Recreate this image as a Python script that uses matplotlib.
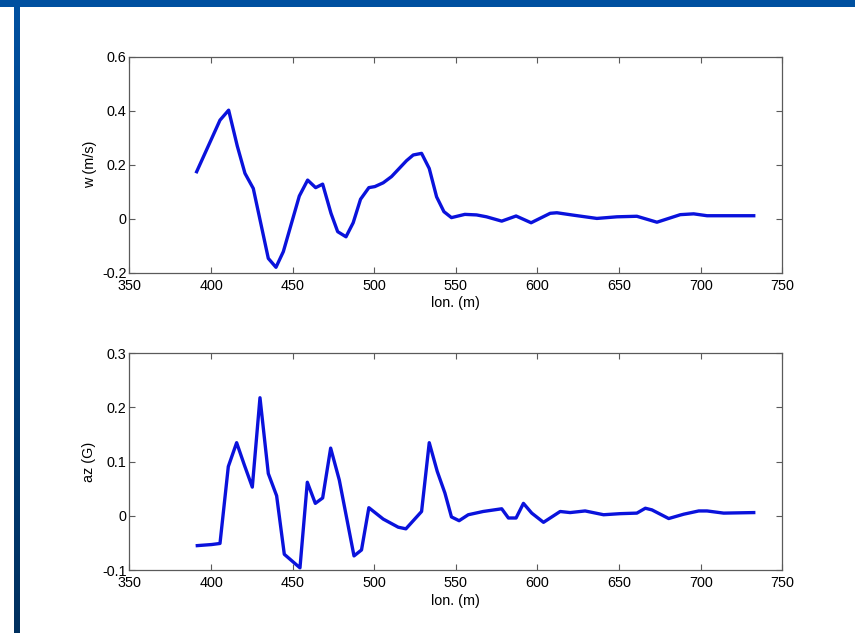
import matplotlib
matplotlib.use("Agg")
import matplotlib.pyplot as plt
import numpy as np
from matplotlib.patches import Rectangle
from matplotlib.colors import LinearSegmentedColormap

plt.rcParams['font.family'] = ['Liberation Sans', 'DejaVu Sans']

# --- data: vertical velocity w (m/s) vs longitudinal distance ---
w_lon = [391.2, 405.5, 410.8, 416.1, 420.8, 425.9, 435.1, 439.8, 444.3, 454.1,
         459.2, 464.1, 468.4, 473.5, 477.6, 482.7, 487.1, 491.6, 496.7, 500.4,
         505.5, 510.6, 519.8, 523.9, 529.0, 533.7, 538.2, 542.7, 547.3, 555.5,
         562.7, 568.8, 578.1, 586.9, 596.1, 607.8, 611.9, 622.1, 636.4, 648.7,
         660.9, 673.2, 687.5, 695.7, 703.9, 720.2, 732.5]
w_val = [0.174, 0.365, 0.402, 0.269, 0.168, 0.112, -0.147, -0.180, -0.122, 0.084,
         0.143, 0.115, 0.128, 0.020, -0.048, -0.067, -0.015, 0.072, 0.115, 0.119,
         0.133, 0.156, 0.215, 0.236, 0.242, 0.186, 0.081, 0.026, 0.004, 0.016,
         0.014, 0.007, -0.009, 0.010, -0.015, 0.020, 0.022, 0.013, 0.001, 0.007,
         0.009, -0.013, 0.015, 0.018, 0.011, 0.011, 0.011]

# --- data: vertical acceleration az (G) vs longitudinal distance ---
az_lon = [391.6, 400.4, 405.5, 410.6, 415.7, 420.4, 425.3, 430.0, 435.1, 440.2,
          444.9, 454.5, 459.0, 463.9, 468.4, 473.3, 478.6, 487.6, 492.2, 496.7,
          505.5, 514.7, 519.4, 529.0, 533.7, 538.6, 543.3, 547.3, 552.0, 557.6,
          566.7, 578.1, 582.2, 586.9, 591.4, 596.5, 603.7, 613.9, 620.0, 629.2,
          640.5, 650.7, 660.9, 666.1, 670.1, 680.4, 689.6, 698.8, 703.9, 714.1,
          732.5]
az_val = [-0.055, -0.053, -0.051, 0.091, 0.135, 0.094, 0.053, 0.218, 0.078, 0.037,
          -0.071, -0.096, 0.062, 0.023, 0.033, 0.125, 0.066, -0.074, -0.063, 0.015,
          -0.006, -0.021, -0.024, 0.008, 0.135, 0.082, 0.042, -0.002, -0.009, 0.002,
          0.008, 0.013, -0.004, -0.004, 0.023, 0.005, -0.012, 0.008, 0.006, 0.009,
          0.002, 0.004, 0.005, 0.014, 0.011, -0.005, 0.003, 0.009, 0.009, 0.005,
          0.006]

x_ticks = [350, 400, 450, 500, 550, 600, 650, 700, 750]
w_ticks = [-0.2, 0, 0.2, 0.4, 0.6]
w_tick_labels = ['-0.2', '0', '0.2', '0.4', '0.6']
az_ticks = [-0.1, 0, 0.1, 0.2, 0.3]
az_tick_labels = ['-0.1', '0', '0.1', '0.2', '0.3']

W, H = 855, 633
fig = plt.figure(figsize=(W / 100, H / 100), dpi=100)
fig.patch.set_facecolor('white')

# slide decoration: top bar and left gradient stripe
fig.patches.append(Rectangle((0, 1 - 7 / H), 1, 7 / H, transform=fig.transFigure,
                             facecolor='#0050a0', edgecolor='none', zorder=0))
grad = np.linspace(0, 1, 256).reshape(-1, 1)
ax_stripe = fig.add_axes([14 / W, 0, 6 / W, 1 - 7 / H])
cmap = LinearSegmentedColormap.from_list('s', ['#00305e', '#0050a0'])
ax_stripe.imshow(grad, aspect='auto', cmap=cmap, origin='lower')
ax_stripe.axis('off')

line_color = '#0a12dc'
frame_color = '#5a5a5a'


def style(ax, yt, ytl, ylim, ylabel):
    ax.set_xlim(350, 750)
    ax.set_ylim(*ylim)
    ax.set_xticks(x_ticks)
    ax.set_xticklabels([str(v) for v in x_ticks])
    ax.set_yticks(yt)
    ax.set_yticklabels(ytl)
    ax.tick_params(direction='in', length=4.5, width=0.8, color=frame_color,
                   top=True, right=True, labelsize=10.4, labelcolor='black')
    ax.tick_params(axis='x', pad=4.5)
    ax.tick_params(axis='y', pad=2)
    for s in ax.spines.values():
        s.set_color(frame_color)
        s.set_linewidth(0.9)
    ax.set_xlabel('lon. (m)', fontsize=10.4, labelpad=2.5)
    ax.set_ylabel(ylabel, fontsize=10.4, labelpad=4)


ax1 = fig.add_axes([129.4 / W, 1 - 272.7 / H, 652.9 / W, 216 / H])
ax1.plot(w_lon, w_val, color=line_color, linewidth=2.4, solid_joinstyle='round')
style(ax1, w_ticks, w_tick_labels, (-0.2, 0.6), 'w (m/s)')

ax2 = fig.add_axes([129.4 / W, 1 - 570 / H, 652.9 / W, 216.7 / H])
ax2.plot(az_lon, az_val, color=line_color, linewidth=2.4, solid_joinstyle='round')
style(ax2, az_ticks, az_tick_labels, (-0.1, 0.3), 'az (G)')

fig.savefig('out.png', dpi=100)
